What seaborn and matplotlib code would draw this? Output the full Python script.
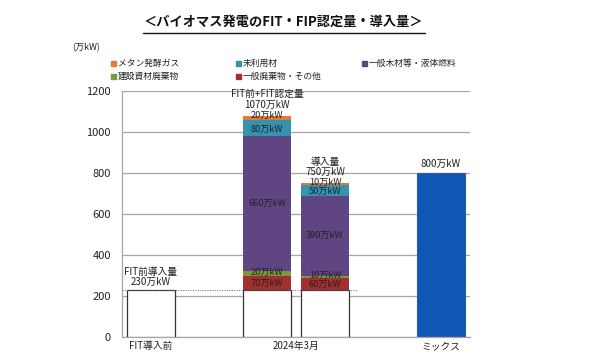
import matplotlib
matplotlib.use("Agg")
import matplotlib.pyplot as plt
import seaborn as sns
import pandas as pd
import numpy as np
from matplotlib.patches import Rectangle

sns.set_theme(style="white")
plt.rcParams['font.family'] = ['Noto Sans CJK JP', 'DejaVu Sans']

# ---- data ----
slots = ["FIT導入前", "gap1", "認定量", "導入量", "gap2", "ミックス"]
base_slots = ["FIT導入前", "認定量", "導入量"]
base_values = [230, 230, 230]
stack_slots = ["認定量", "導入量"]
series_names = ["一般廃棄物・その他", "建設資材廃棄物", "一般木材等・液体燃料", "未利用材", "メタン発酵ガス"]
series_values = {
    "一般廃棄物・その他": [70, 60],
    "建設資材廃棄物": [20, 10],
    "一般木材等・液体燃料": [660, 390],
    "未利用材": [80, 50],
    "メタン発酵ガス": [20, 10],
}
series_colors = {
    "一般廃棄物・その他": "#A3302E",
    "建設資材廃棄物": "#7A9A3E",
    "一般木材等・液体燃料": "#5F4682",
    "未利用材": "#3592B0",
    "メタン発酵ガス": "#E07B39",
}
mix_value = 800
seg_labels = {
    "一般廃棄物・その他": ["70万kW", "60万kW"],
    "建設資材廃棄物": ["20万kW", "10万kW"],
    "一般木材等・液体燃料": ["660万kW", "390万kW"],
    "未利用材": ["80万kW", "50万kW"],
    "メタン発酵ガス": ["20万kW", "10万kW"],
}
top_labels = ["FIT前+FIT認定量\n1070万kW", "導入量\n750万kW"]
base_label = "FIT前導入量\n230万kW"
mix_label = "800万kW"
yticks = [0, 200, 400, 600, 800, 1000, 1200]

# ---- figure ----
fig = plt.figure(figsize=(5.9, 3.6), dpi=100)
ax = fig.add_axes([122/590, 1-337/360, 348/590, (337-91)/360])

W = 0.83
cum = np.array(base_values[1:], dtype=float)
tops = {}
bottoms = {}
for name in series_names:
    bottoms[name] = cum.copy()
    cum = cum + np.array(series_values[name])
    tops[name] = cum.copy()

for name in reversed(series_names):
    df = pd.DataFrame({"slot": stack_slots, "v": tops[name]})
    sns.barplot(data=df, x="slot", y="v", order=slots, color=series_colors[name],
                width=W, saturation=1, edgecolor="none", linewidth=0, ax=ax, zorder=2)

dfb = pd.DataFrame({"slot": base_slots, "v": base_values})
sns.barplot(data=dfb, x="slot", y="v", order=slots, color="white", width=W,
            saturation=1, edgecolor="#333333", linewidth=0.9, ax=ax, zorder=3)

dfm = pd.DataFrame({"slot": ["ミックス"], "v": [mix_value]})
sns.barplot(data=dfm, x="slot", y="v", order=slots, color="#1157B6", width=W,
            saturation=1, edgecolor="#2A5CA8", linewidth=0.8, ax=ax, zorder=2)

ax.set_ylim(0, 1200)
ax.set_xlim(-0.5, 5.5)
ax.set_yticks(yticks)
ax.set_yticklabels([str(v) for v in yticks], fontsize=8, color="#222222")
ax.yaxis.grid(True, color="#A6A6A6", linewidth=0.9, zorder=0)
ax.set_axisbelow(True)
ax.tick_params(axis="y", length=0, pad=8)
ax.tick_params(axis="x", length=0, pad=3)
ax.set_xticks([0, 2.5, 5])
ax.set_xticklabels(["FIT導入前", "2024年3月", "ミックス"], fontsize=7, color="#222222")
ax.set_xlabel("")
ax.set_ylabel("")
for s in ["top", "right"]:
    ax.spines[s].set_visible(False)
for s in ["left", "bottom"]:
    ax.spines[s].set_color("#A6A6A6")
    ax.spines[s].set_linewidth(0.9)

ax.plot([-0.5, 3.55], [base_values[0], base_values[0]], ls=(0, (1, 1.5)),
        color="#666666", lw=0.7, zorder=4)

# segment labels (small ones nudged apart, as in the reference)
nudge = {"メタン発酵ガス": 10, "未利用材": -6, "建設資材廃棄物": 6, "一般廃棄物・その他": -4,
         "一般木材等・液体燃料": 0}
xs = [slots.index(s) for s in stack_slots]
for name in series_names:
    for i, x in enumerate(xs):
        mid = (bottoms[name][i] + tops[name][i]) / 2 + nudge[name]
        ax.text(x, mid, seg_labels[name][i], ha="center", va="center", fontsize=6.6,
                color="#222222", zorder=5)

for i, x in enumerate(xs):
    ax.text(x, tops["メタン発酵ガス"][i] + 30, top_labels[i], ha="center", va="bottom",
            fontsize=7, color="#222222", linespacing=1.05, zorder=5)
ax.text(0, base_values[0] + 14, base_label, ha="center", va="bottom", fontsize=7,
        color="#222222", linespacing=1.05, zorder=5)
ax.text(5, mix_value + 18, mix_label, ha="center", va="bottom", fontsize=7,
        color="#222222", zorder=5)

fig.text(283/590, 1-22/360, "＜バイオマス発電のFIT・FIP認定量・導入量＞", ha="center",
         va="center", fontsize=9.5, fontweight="bold", color="#111111")
fig.add_artist(plt.Line2D([143/590, 425/590], [1-33/360, 1-33/360], color="#111111", lw=1))

fig.text(72/590, 1-48/360, "(万kW)", ha="left", va="center", fontsize=6.5, color="#222222")

legend_items = [
    ("メタン発酵ガス", 113, 63), ("未利用材", 238, 63), ("一般木材等・液体燃料", 364, 63),
    ("建設資材廃棄物", 113, 76), ("一般廃棄物・その他", 238, 76),
]
for name, px, py in legend_items:
    sz = 5
    fig.add_artist(Rectangle(((px - sz/2)/590, 1-(py + sz/2)/360), sz/590, sz/360,
                             transform=fig.transFigure, color=series_colors[name]))
    fig.text((px + 5)/590, 1-py/360, name, ha="left", va="center", fontsize=6.3,
             color="#222222")

fig.savefig("out.png", dpi=100)
